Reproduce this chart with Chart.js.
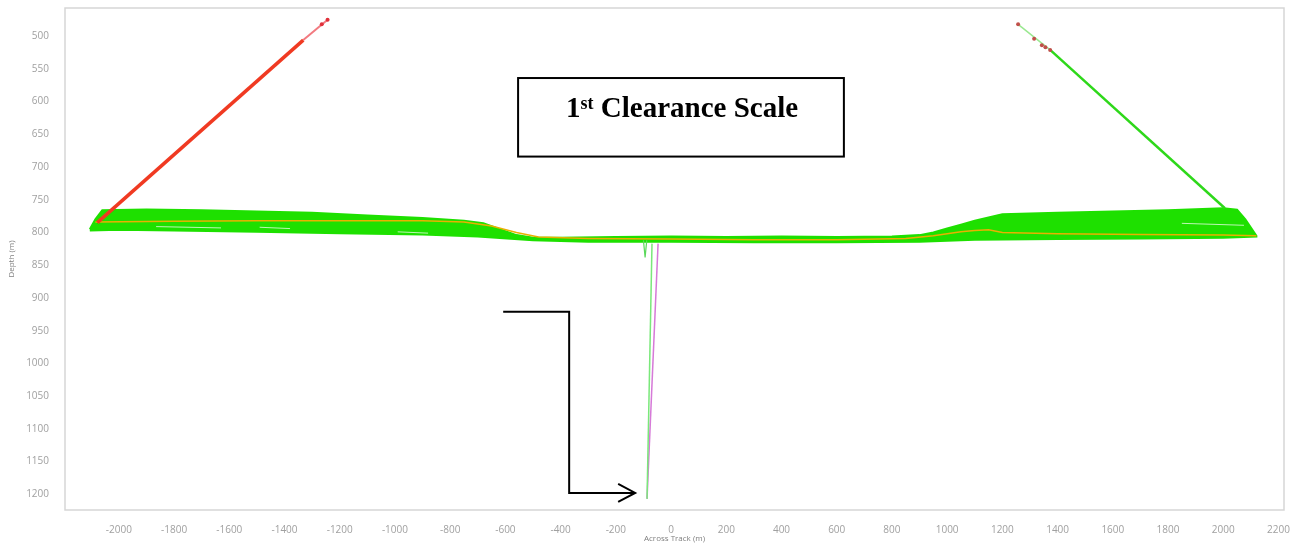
<!DOCTYPE html>
<html>
<head>
<meta charset="utf-8">
<title>1st Clearance Scale</title>
<script src="https://cdn.jsdelivr.net/npm/chart.js@4/dist/chart.umd.min.js"></script>
<style>
  html, body { margin: 0; padding: 0; background: #ffffff; }
  #wrap { width: 1294px; height: 550px; }
</style>
</head>
<body>
<div id="wrap"><canvas id="swathChart" width="1294" height="550"></canvas></div>
<script>
// axis ticks and ranges (across track in m, depth in m)
const xTicks = [-2000, -1800, -1600, -1400, -1200, -1000, -800, -600, -400, -200, 0, 200, 400, 600, 800, 1000, 1200, 1400, 1600, 1800, 2000, 2200];
const yTicks = [500, 550, 600, 650, 700, 750, 800, 850, 900, 950, 1000, 1050, 1100, 1150, 1200];
const xRange = [-2195, 2220];
const depthRange = [457, 1224];

// swath outline: shallow edge and deep edge of the green soundings, [across, depth]
const bandTop = [
  [-2105, 795], [-2085, 780], [-2060, 766], [-1900, 765], [-1700, 766], [-1500, 768],
  [-1300, 770], [-1100, 774], [-900, 778], [-750, 782], [-680, 786], [-620, 795],
  [-560, 804], [-500, 808], [-400, 808], [-200, 807], [0, 806], [200, 807], [400, 806],
  [600, 807], [800, 806], [900, 804], [950, 800], [1000, 794], [1050, 788], [1100, 782],
  [1150, 777], [1200, 772], [1400, 770], [1600, 768], [1800, 766], [2000, 763],
  [2050, 765], [2080, 780], [2120, 805]
];
const bandBottom = [
  [-2105, 797], [-2000, 796], [-1800, 797], [-1500, 799], [-1200, 801], [-900, 803],
  [-700, 806], [-500, 812], [-300, 814], [0, 814], [300, 815], [600, 815], [900, 814],
  [1100, 811], [1400, 810], [1700, 809], [2000, 808], [2120, 806]
];
// gaps in the swath
const streaks = [
  [[-1865, 791], [-1630, 793]],
  [[-1490, 792], [-1380, 794]],
  [[-990, 799], [-880, 801]],
  [[1850, 786], [2075, 789]]
];
// nadir depth line (orange)
const nadir = [
  [-2085, 784], [-1800, 783], [-1500, 782], [-1200, 782], [-900, 782], [-750, 784],
  [-650, 790], [-560, 800], [-480, 807], [-300, 809], [0, 810], [300, 811], [600, 811],
  [850, 809], [950, 805], [1050, 799], [1100, 797], [1150, 796], [1200, 800],
  [1400, 802], [1700, 803], [2000, 804], [2120, 805]
];
// outer beams
const portBeam = [[-2078, 785], [-1332, 506]];
const portBeamTail = [[-1332, 506], [-1244, 475]];
const portDots = [[-1265, 482], [-1244, 475]];
const stbdBeam = [[1373, 521], [2006, 763]];
const stbdBeamTail = [[1257, 482], [1373, 521]];
const stbdDots = [[1257, 482], [1315, 504], [1343, 514], [1356, 517], [1373, 521]];
// spike below nadir
const spikeGreen = [[-69, 817], [-87, 1207]];
const spikeMagenta = [[-47, 817], [-87, 1207]];
const spikeNotch = [[-100, 812], [-94, 838], [-88, 812]];

// annotation (data units)
const labelBox = { x0: -554, x1: 626, d0: 564, d1: 684, cx: 40, baseline: 624 };
const arrowPath = [[-608, 921], [-369, 921], [-369, 1198], [-130, 1198]];

const pts = arr => arr.map(p => ({ x: p[0], y: p[1] }));

const frameAndNotes = {
  id: 'frameAndNotes',
  afterDatasetsDraw(chart) {
    const { ctx, chartArea: a, scales: { x, y } } = chart;
    ctx.save();
    // plot frame
    ctx.strokeStyle = '#d6d6d6';
    ctx.lineWidth = 1.5;
    ctx.strokeRect(a.left, a.top, a.right - a.left, a.bottom - a.top);

    // title box
    const bx0 = x.getPixelForValue(labelBox.x0), bx1 = x.getPixelForValue(labelBox.x1);
    const by0 = y.getPixelForValue(labelBox.d0), by1 = y.getPixelForValue(labelBox.d1);
    ctx.fillStyle = '#ffffff';
    ctx.fillRect(bx0, by0, bx1 - bx0, by1 - by0);
    ctx.strokeStyle = '#000000';
    ctx.lineWidth = 2;
    ctx.strokeRect(bx0, by0, bx1 - bx0, by1 - by0);

    const big = 'bold 29px "Liberation Serif", "Times New Roman", serif';
    const small = 'bold 18px "Liberation Serif", "Times New Roman", serif';
    ctx.font = big;
    const wOne = ctx.measureText('1').width;
    const wRest = ctx.measureText(' Clearance Scale').width;
    ctx.font = small;
    const wSup = ctx.measureText('st').width;
    const total = wOne + wSup + wRest;
    let tx = x.getPixelForValue(labelBox.cx) - total / 2;
    const base = y.getPixelForValue(labelBox.baseline);
    ctx.fillStyle = '#000000';
    ctx.textBaseline = 'alphabetic';
    ctx.textAlign = 'left';
    ctx.font = big;
    ctx.fillText('1', tx, base);
    tx += wOne;
    ctx.font = small;
    ctx.fillText('st', tx, base - 8);
    tx += wSup;
    ctx.font = big;
    ctx.fillText(' Clearance Scale', tx, base);

    // arrow
    ctx.beginPath();
    arrowPath.forEach((p, i) => {
      const px = x.getPixelForValue(p[0]), py = y.getPixelForValue(p[1]);
      if (i === 0) ctx.moveTo(px, py); else ctx.lineTo(px, py);
    });
    ctx.lineWidth = 2;
    ctx.stroke();
    const tip = arrowPath[arrowPath.length - 1];
    const tipX = x.getPixelForValue(tip[0]), tipY = y.getPixelForValue(tip[1]);
    ctx.beginPath();
    ctx.moveTo(tipX - 17, tipY - 9);
    ctx.lineTo(tipX, tipY);
    ctx.lineTo(tipX - 17, tipY + 9);
    ctx.stroke();
    ctx.restore();
  }
};

const line = (label, data, color, width, order) => ({
  label, data: pts(data), showLine: true, borderColor: color,
  borderWidth: width, pointRadius: 0, order
});
const dots = (label, data, color, order) => ({
  label, data: pts(data), showLine: false, backgroundColor: color,
  borderWidth: 0, pointRadius: 2, order
});

new Chart(document.getElementById('swathChart').getContext('2d'), {
  type: 'scatter',
  data: {
    datasets: [
      {
        label: 'Swath',
        data: pts(bandTop.concat(bandBottom.slice().reverse())),
        showLine: true,
        fill: 'shape',
        backgroundColor: '#1ee000',
        borderColor: '#1ee000',
        borderWidth: 2,
        pointRadius: 0,
        order: 10
      },
      ...streaks.map(s => line('Gap', s, 'rgba(255,255,255,0.7)', 1, 9)),
      line('Nadir', nadir, '#eab000', 1.5, 5),
      line('Port beam', portBeam, '#f03a22', 3.5, 4),
      line('Port beam tail', portBeamTail, '#f27a80', 2, 4),
      dots('Port dots', portDots, '#e0303a', 3),
      line('Starboard beam', stbdBeam, '#2ed81a', 2.5, 4),
      line('Starboard beam tail', stbdBeamTail, '#9ae890', 1.5, 4),
      dots('Starboard dots', stbdDots, '#c0504a', 3),
      line('Spike', spikeGreen, '#7ae87a', 1.5, 4),
      line('Spike 2', spikeMagenta, '#d67ad8', 1.5, 4),
      line('Notch', spikeNotch, '#5ad85a', 1.2, 4)
    ]
  },
  options: {
    responsive: false,
    animation: false,
    devicePixelRatio: 1,
    layout: { padding: { left: 0, top: 8, right: 10, bottom: 0 } },
    plugins: {
      legend: { display: false },
      tooltip: { enabled: false }
    },
    scales: {
      x: {
        type: 'linear',
        min: xRange[0],
        max: xRange[1],
        grid: { display: false },
        border: { display: false },
        afterBuildTicks: s => { s.ticks = xTicks.map(v => ({ value: v })); },
        afterFit: s => { s.height = 40; s.paddingLeft = 0; s.paddingRight = 0; },
        ticks: {
          color: '#a0a0a0',
          font: { family: '"Open Sans", "Noto Sans", sans-serif', size: 10 },
          padding: 6,
          maxRotation: 0,
          autoSkip: false,
          callback: v => String(v)
        },
        title: {
          display: true,
          text: 'Across Track (m)',
          color: '#808080',
          font: { family: '"Open Sans", "Noto Sans", sans-serif', size: 8 },
          padding: { top: 0, bottom: 6 }
        }
      },
      y: {
        type: 'linear',
        reverse: true,
        min: depthRange[0],
        max: depthRange[1],
        grid: { display: false },
        border: { display: false },
        afterBuildTicks: s => { s.ticks = yTicks.map(v => ({ value: v })); },
        afterFit: s => { s.width = 65; s.paddingTop = 0; s.paddingBottom = 0; },
        ticks: {
          color: '#a0a0a0',
          font: { family: '"Open Sans", "Noto Sans", sans-serif', size: 10 },
          padding: 8,
          autoSkip: false,
          callback: v => String(v)
        },
        title: {
          display: true,
          text: 'Depth (m)',
          color: '#808080',
          font: { family: '"Open Sans", "Noto Sans", sans-serif', size: 8 },
          padding: { top: 7, bottom: 0 }
        }
      }
    }
  },
  plugins: [frameAndNotes]
});
</script>
</body>
</html>
